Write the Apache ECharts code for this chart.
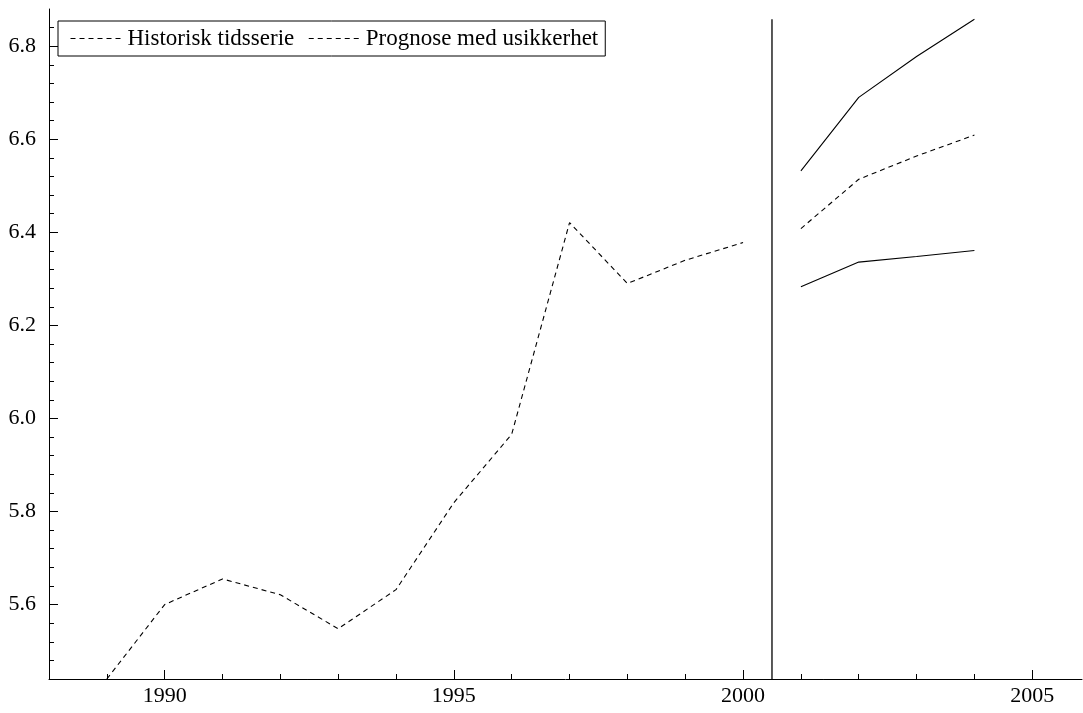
<!DOCTYPE html>
<html>
<head>
<meta charset="utf-8">
<script src="https://cdn.jsdelivr.net/npm/echarts@6/dist/echarts.min.js"></script>
<style>
html,body{margin:0;padding:0;background:#fff;}
#chart{width:1083px;height:713px;}
</style>
</head>
<body>
<div id="chart"></div>
<script>
// ---- data ----
const histYears = [1989, 1990, 1991, 1992, 1993, 1994, 1995, 1996, 1997, 1998, 1999, 2000];
const histValues = [5.44, 5.60, 5.655, 5.621, 5.548, 5.632, 5.819, 5.966, 6.421, 6.290, 6.340, 6.378];
const fcYears = [2001, 2002, 2003, 2004];
const fcMid = [6.408, 6.514, 6.564, 6.609];
const fcUpper = [6.532, 6.690, 6.778, 6.858];
const fcLower = [6.283, 6.336, 6.348, 6.361];
const splitYear = 2000.5;
const xTickLabels = [1990, 1995, 2000, 2005];
const yTickLabels = [5.6, 5.8, 6.0, 6.2, 6.4, 6.6, 6.8];
const legendNames = ['Historisk tidsserie', 'Prognose med usikkerhet'];
const xMin = 1988, xMax = 2005.86, yMin = 5.44, yMax = 6.88;

const pairs = (xs, ys) => xs.map((x, i) => [x, ys[i]]);
const FONT = 'Liberation Serif';
const dash = [5, 4];

const chart = echarts.init(document.getElementById('chart'), null, {renderer: 'canvas'});
chart.setOption({
  animation: false,
  backgroundColor: '#fff',
  grid: {left: 49, right: 1, top: 9, bottom: 34, containLabel: false},
  legend: {
    left: 58, top: 21,
    orient: 'horizontal',
    data: legendNames,
    borderColor: '#000', borderWidth: 1, borderRadius: 0,
    padding: [6, 7, 6, 12],
    itemWidth: 52, itemHeight: 22, itemGap: 14,
    itemStyle: {opacity: 0},
    lineStyle: {width: 1, type: dash, color: '#000'},
    textStyle: {fontFamily: FONT, fontSize: 23, color: '#000', padding: [2, 0, 0, 0]},
    inactiveColor: '#000'
  },
  xAxis: {
    type: 'value', min: xMin, max: xMax, splitNumber: 4,
    axisLine: {show: true, lineStyle: {color: '#000', width: 1}},
    axisTick: {show: true, inside: true, length: 9, lineStyle: {color: '#000'}, customValues: xTickLabels},
    minorTick: {show: true, splitNumber: 5, length: 5, lineStyle: {color: '#000'}},
    axisLabel: {color: '#000', fontFamily: FONT, fontSize: 22, margin: 6, customValues: xTickLabels,
      formatter: v => String(v)},
    splitLine: {show: false}
  },
  yAxis: {
    type: 'value', min: yMin, max: yMax, splitNumber: 7,
    axisLine: {show: true, lineStyle: {color: '#000', width: 1}},
    axisTick: {show: true, inside: true, length: 9, lineStyle: {color: '#000'}, customValues: yTickLabels},
    minorTick: {show: true, splitNumber: 5, length: 5, lineStyle: {color: '#000'}},
    axisLabel: {color: '#000', fontFamily: FONT, fontSize: 22, margin: 13, customValues: yTickLabels,
      formatter: v => v.toFixed(1)},
    splitLine: {show: false}
  },
  series: [
    {name: legendNames[0], type: 'line', data: pairs(histYears, histValues), symbol: 'none',
     lineStyle: {color: '#000', width: 1.1, type: dash}, itemStyle: {color: '#000'}},
    {name: legendNames[1], type: 'line', data: pairs(fcYears, fcMid), symbol: 'none',
     lineStyle: {color: '#000', width: 1.1, type: dash}, itemStyle: {color: '#000'}},
    {name: 'upper', type: 'line', data: pairs(fcYears, fcUpper), symbol: 'none',
     lineStyle: {color: '#000', width: 1.1, type: 'solid'}, itemStyle: {color: '#000'}},
    {name: 'lower', type: 'line', data: pairs(fcYears, fcLower), symbol: 'none',
     lineStyle: {color: '#000', width: 1.1, type: 'solid'}, itemStyle: {color: '#000'}},
    {name: 'split', type: 'line', data: [[splitYear, yMin], [splitYear, Math.max(...fcUpper)]], symbol: 'none',
     lineStyle: {color: '#000', width: 1.3, type: 'solid'}, itemStyle: {color: '#000'}}
  ]
});
</script>
</body>
</html>
